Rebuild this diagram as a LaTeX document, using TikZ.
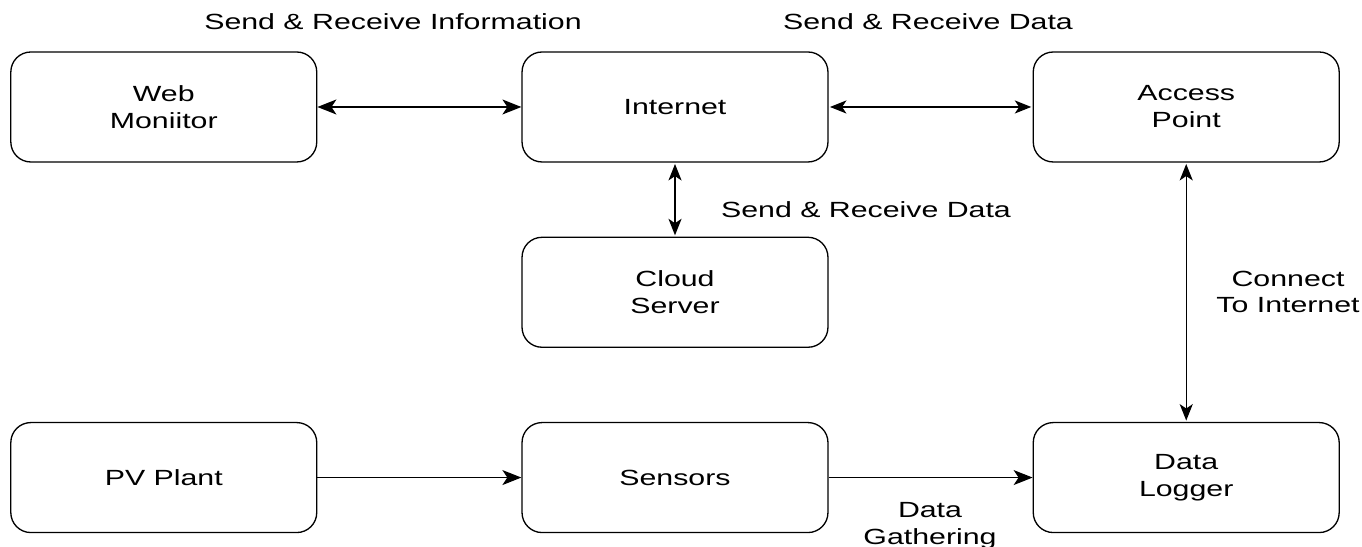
\documentclass[tikz,border=0pt]{standalone}
\usepackage{fontspec}
\setmainfont[FakeStretch=1.38]{Liberation Sans}
\usetikzlibrary{positioning,arrows.meta}

\begin{document}
\begin{tikzpicture}[x=0.02cm, y=0.02cm, node distance=4.08cm,
  main node/.style={draw, rounded corners=0.4cm, line width=0.75pt,
    minimum width=6.12cm, minimum height=2.2cm, align=center,
    font=\fontsize{12.5}{15.3}\selectfont},
  label text/.style={align=center, font=\fontsize{12.5}{15.3}\selectfont},
  tip/.tip={Stealth[length=0.38cm, width=0.3cm, inset=0.1cm]},
  thin link/.style={line width=0.75pt},
  thick link/.style={line width=1.3pt}]
\useasboundingbox (0,0) rectangle (1362,547);

\node[main node] at (675,440)        (internet) {Internet};
\node[main node, left=of internet]  (web)      {Web\\Moniitor};
\node[main node, right=of internet] (access)   {Access\\Point};
\node[main node, below=1.48cm of internet] (cloud)   {Cloud\\Server};
\node[main node, below=1.48cm of cloud]    (sensors) {Sensors};
\node[main node, left=of sensors]   (pv)       {PV Plant};
\node[main node, right=of sensors]  (logger)   {Data\\Logger};

\path
(web)      [thin link, tip-tip]  edge (internet)
(internet) [thick link, tip-tip] edge (access)
           [thick link, tip-tip] edge (cloud)
(access)   [thick link, tip-tip] edge (logger)
(pv)       [thin link, -tip]     edge (sensors)
(sensors)  [thin link, -tip]     edge (logger)
;

\node[label text] at (393,525)  (lab1) {Send \& Receive Information};
\node[label text] at (928,525)  (lab2) {Send \& Receive Data};
\node[label text] at (866,337)  (lab3) {Send \& Receive Data};
\node[label text] at (1288,255) (lab4) {Connect\\To Internet};
\node[label text] at (930,21)   (lab5) {Data\\Gathering};
\end{tikzpicture}
\end{document}
